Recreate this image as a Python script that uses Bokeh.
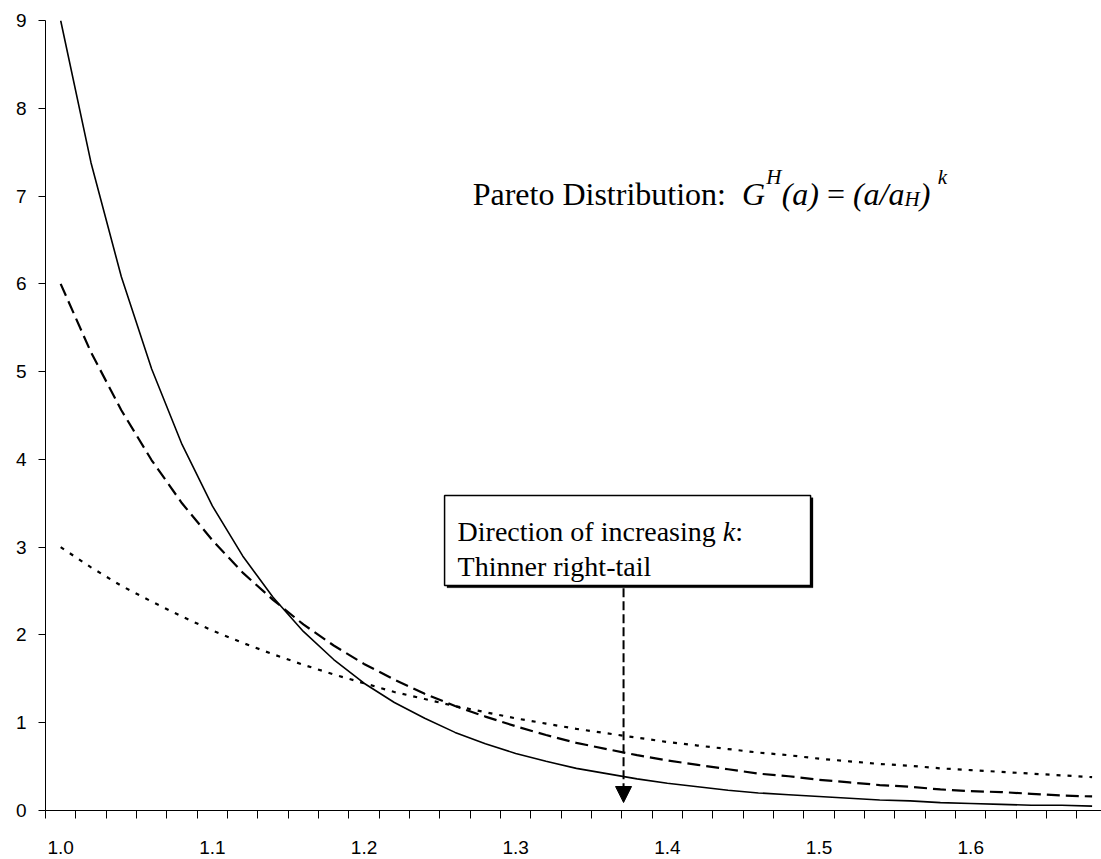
from bokeh.plotting import figure
from bokeh.models import Range1d, FixedTicker, NumeralTickFormatter, Label, BoxAnnotation, Arrow, NormalHead
from bokeh.embed import file_html
from bokeh.resources import INLINE

# ---- data ----
a_values = [1.00, 1.02, 1.04, 1.06, 1.08, 1.10, 1.12, 1.14, 1.16, 1.18,
            1.20, 1.22, 1.24, 1.26, 1.28, 1.30, 1.32, 1.34, 1.36, 1.38,
            1.40, 1.42, 1.44, 1.46, 1.48, 1.50, 1.52, 1.54, 1.56, 1.58,
            1.60, 1.62, 1.64, 1.66, 1.68]
k3_density = [3.00, 2.77, 2.56, 2.38, 2.21, 2.05, 1.91, 1.78, 1.66, 1.55,
              1.45, 1.35, 1.27, 1.19, 1.12, 1.05, 0.99, 0.93, 0.88, 0.83,
              0.78, 0.74, 0.70, 0.66, 0.63, 0.59, 0.56, 0.53, 0.51, 0.48,
              0.46, 0.44, 0.42, 0.40, 0.38]
k6_density = [6.00, 5.22, 4.56, 3.99, 3.50, 3.08, 2.71, 2.40, 2.12, 1.88,
              1.67, 1.49, 1.33, 1.19, 1.07, 0.96, 0.86, 0.77, 0.70, 0.63,
              0.57, 0.52, 0.47, 0.42, 0.39, 0.35, 0.32, 0.29, 0.27, 0.24,
              0.22, 0.21, 0.19, 0.17, 0.16]
k9_density = [9.00, 7.38, 6.08, 5.03, 4.17, 3.47, 2.90, 2.43, 2.04, 1.72,
              1.45, 1.23, 1.05, 0.89, 0.76, 0.65, 0.56, 0.48, 0.42, 0.36,
              0.31, 0.27, 0.23, 0.20, 0.18, 0.16, 0.14, 0.12, 0.11, 0.09,
              0.08, 0.07, 0.06, 0.06, 0.05]
x_tick_values = [1.0, 1.1, 1.2, 1.3, 1.4, 1.5, 1.6]
y_tick_values = [0, 1, 2, 3, 4, 5, 6, 7, 8, 9]

title_text = "Pareto Distribution:"
box_line1 = "Direction of increasing"
box_k = "k"
box_line2 = "Thinner right-tail"

SERIF = "Liberation Serif"
SANS = "Liberation Sans"

p = figure(width=1101, height=859, output_backend="svg", toolbar_location=None,
           x_range=Range1d(0.99, 1.6862), y_range=Range1d(0, 9),
           min_border_left=45, min_border_right=0, min_border_top=20, min_border_bottom=49)
p.outline_line_color = None
p.xgrid.visible = False
p.ygrid.visible = False
p.background_fill_color = "white"
p.border_fill_color = "white"

p.line(a_values, k9_density, line_color="black", line_width=1.6)
p.line(a_values, k6_density, line_color="black", line_width=2.2, line_dash="13 6")
p.line(a_values, k3_density, line_color="black", line_width=2.2, line_dash="4 7")

step = a_values[1] - a_values[0]
xa = p.xaxis[0]
xa.ticker = FixedTicker(ticks=x_tick_values,
                        minor_ticks=[round(a_values[0] - step / 2 + step * i, 3) for i in range(len(a_values) + 1)])
xa.formatter = NumeralTickFormatter(format="0.0")
xa.major_tick_out = 0
xa.major_tick_in = 0
xa.minor_tick_out = 8
xa.minor_tick_in = 0
xa.minor_tick_line_color = "black"
xa.major_label_standoff = 22
xa.major_label_text_font = SANS
xa.major_label_text_font_size = "19px"
xa.major_label_text_color = "black"
xa.axis_line_color = "black"

ya = p.yaxis[0]
ya.ticker = FixedTicker(ticks=y_tick_values, minor_ticks=[])
ya.major_tick_out = 7
ya.major_tick_in = 0
ya.minor_tick_out = 0
ya.minor_tick_in = 0
ya.major_label_standoff = 12
ya.major_label_text_font = SANS
ya.major_label_text_font_size = "19px"
ya.major_label_text_color = "black"
ya.axis_line_color = "black"
ya.major_tick_line_color = "black"

# ---- title formula ----
tx, ty = 1.2716, 7.018
S, s = "32px", "21px"
def lab(text, xo, yo=0, size=S, style="normal"):
    p.add_layout(Label(x=tx, y=ty, x_offset=xo, y_offset=yo, text=text,
                       text_font=SERIF, text_font_size=size, text_font_style=style,
                       text_color="black", text_baseline="alphabetic", text_align="left"))
lab(title_text, 0)
lab("G", 269.3, style="italic")
lab("H", 293.5, 17, s, "italic")
lab("(a)", 309, style="italic")
lab("=", 354.3)
lab("(a/a", 380.3, style="italic")
lab("H", 431.9, -5, s, "italic")
lab(")", 447.1, style="italic")
lab("k", 465, 17, s, "italic")

# ---- box with arrow ----
bl, br, bt, bb = 1.2531, 1.4944, 3.588, 2.563
p.add_layout(BoxAnnotation(left=bl + 0.0016, right=br + 0.0016, top=bt - 0.025, bottom=bb - 0.025,
                           fill_color="black", fill_alpha=1.0, line_color="black", line_width=1))
p.add_layout(BoxAnnotation(left=bl, right=br, top=bt, bottom=bb,
                           fill_color="white", fill_alpha=1.0, line_color="black", line_alpha=1.0,
                           line_width=1.5))
bx = 1.2617
def blab(text, xo, y, style="normal"):
    p.add_layout(Label(x=bx, y=y, x_offset=xo, text=text, text_font=SERIF, text_font_size="28px",
                       text_font_style=style, text_color="black", text_baseline="alphabetic", text_align="left"))
blab(box_line1, 0, 3.178)
blab(box_k, 265.2, 3.178, "italic")
blab(":", 277.6, 3.178)
blab(box_line2, 0, 2.780)

p.add_layout(Arrow(x_start=1.3711, y_start=bb - 0.03, x_end=1.3711, y_end=0.091,
                   line_color="black", line_width=2, line_dash="9 4",
                   end=NormalHead(size=16, fill_color="black", line_color="black", line_width=1)))

open("out.html", "w").write(file_html(p, INLINE))
